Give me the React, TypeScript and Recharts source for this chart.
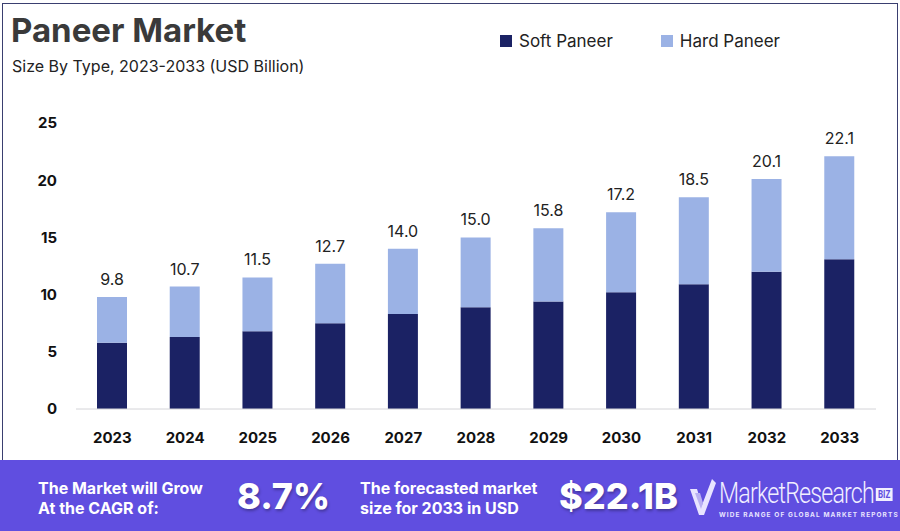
import { BarChart, Bar, XAxis, YAxis, LabelList } from 'recharts';

const years = ['2023', '2024', '2025', '2026', '2027', '2028', '2029', '2030', '2031', '2032', '2033'];
const softPaneer = [5.8, 6.3, 6.8, 7.5, 8.3, 8.9, 9.4, 10.2, 10.9, 12.0, 13.1];
const hardPaneer = [4.0, 4.4, 4.7, 5.2, 5.7, 6.1, 6.4, 7.0, 7.6, 8.1, 9.0];
const totals = [9.8, 10.7, 11.5, 12.7, 14.0, 15.0, 15.8, 17.2, 18.5, 20.1, 22.1];
const yTicks = [0, 5, 10, 15, 20, 25];

const SOFT = '#1b2264';
const HARD = '#9bb2e5';
const FONT = 'Inter, "Open Sans", sans-serif';

const data = years.map((year, i) => ({
  year,
  soft: softPaneer[i],
  hard: hardPaneer[i],
  total: totals[i].toFixed(1),
}));

function LegendBox() {
  const items = [
    { name: 'Soft Paneer', color: SOFT },
    { name: 'Hard Paneer', color: HARD },
  ];
  return (
    <div style={{ position: 'absolute', left: 500, top: 31, display: 'flex', gap: 48, fontSize: 17, color: '#222' }}>
      {items.map((it) => (
        <div key={it.name} style={{ display: 'flex', alignItems: 'center' }}>
          <span style={{ width: 12, height: 12, background: it.color, display: 'inline-block', marginRight: 7 }} />
          {it.name}
        </div>
      ))}
    </div>
  );
}

export default function App() {
  return (
    <div style={{ position: 'absolute', left: 0, top: 0, width: 900, height: 531, background: '#fff', overflow: 'hidden', fontFamily: FONT }}>
      <div style={{ position: 'absolute', left: 2, top: 3, width: 896, height: 470, border: '1.5px solid #3a3f70', boxSizing: 'border-box' }} />
      <div style={{ position: 'absolute', left: 11, top: 10, fontSize: 33, fontWeight: 700, color: '#3a3a3a', letterSpacing: 0 }}>
        Paneer Market
      </div>
      <div style={{ position: 'absolute', left: 12, top: 56, fontSize: 16, color: '#222' }}>
        Size By Type, 2023-2033 (USD Billion)
      </div>
      <LegendBox />

      <div style={{ position: 'absolute', left: 0, top: 0 }}>
        <BarChart width={900} height={460} data={data} margin={{ top: 123, right: 24, bottom: 11, left: 16 }}>
          <XAxis
            dataKey="year"
            height={40}
            tickLine={false}
            tickMargin={17}
            axisLine={{ stroke: '#d4d4d8' }}
            tick={{ fontSize: 15, fontWeight: 700, fill: '#111', fontFamily: FONT }}
          />
          <YAxis
            width={60}
            domain={[0, 25]}
            ticks={yTicks}
            tickLine={false}
            axisLine={false}
            tickMargin={13}
            tick={{ fontSize: 15, fontWeight: 700, fill: '#111', fontFamily: FONT }}
          />
          <Bar dataKey="soft" name="Soft Paneer" stackId="a" fill={SOFT} barSize={30} isAnimationActive={false} />
          <Bar dataKey="hard" name="Hard Paneer" stackId="a" fill={HARD} barSize={30} isAnimationActive={false}>
            <LabelList dataKey="total" position="top" offset={12} style={{ fontSize: 16, fill: '#222', fontFamily: FONT }} />
          </Bar>
        </BarChart>
      </div>

      <div style={{ position: 'absolute', left: 0, top: 460, width: 900, height: 71, background: '#604ee0', color: '#fff' }}>
        <div style={{ position: 'absolute', left: 38, top: 18, fontSize: 16, fontWeight: 700, lineHeight: '20px' }}>
          The Market will Grow<br />At the CAGR of:
        </div>
        <div style={{ position: 'absolute', left: 237, top: 14, fontSize: 36, fontWeight: 800, lineHeight: '44px', textShadow: '1px 2px 3px rgba(0,0,0,0.3)' }}>
          8.7%
        </div>
        <div style={{ position: 'absolute', left: 360, top: 18, fontSize: 16, fontWeight: 700, lineHeight: '20px' }}>
          The forecasted market<br />size for 2033 in USD
        </div>
        <div style={{ position: 'absolute', left: 559, top: 14, fontSize: 36, fontWeight: 800, lineHeight: '44px', textShadow: '1px 2px 3px rgba(0,0,0,0.3)' }}>
          $22.1B
        </div>
        <svg style={{ position: 'absolute', left: 688, top: 17 }} width={30} height={40} viewBox="0 0 30 40">
          <path d="M2 12 L9 12 L14 28 L24 2 L28 6 L16 38 L11 38 Z" fill="#e8e4ff" />
          <path d="M7 16 L12 16 L15 26 L13 32 Z" fill="#b9b0f2" />
        </svg>
        <div style={{ position: 'absolute', left: 719, top: 18, fontSize: 29, fontFamily: '"Liberation Sans Narrow", Roboto, sans-serif', fontWeight: 300, letterSpacing: -1, color: '#f1efff', lineHeight: '30px', transform: 'scaleX(0.8)', transformOrigin: 'left center', whiteSpace: 'nowrap' }}>
          MarketResearch
          <span style={{ fontSize: 10, fontWeight: 700, background: '#f1efff', color: '#604ee0', padding: '1px 3px', marginLeft: 2, verticalAlign: 'middle', letterSpacing: 0 }}>BIZ</span>
        </div>
        <div style={{ position: 'absolute', left: 719, top: 51, fontSize: 6.5, fontWeight: 700, letterSpacing: 1.1, color: '#e8e4ff', whiteSpace: 'nowrap' }}>
          WIDE RANGE OF GLOBAL MARKET REPORTS
        </div>
      </div>
    </div>
  );
}
